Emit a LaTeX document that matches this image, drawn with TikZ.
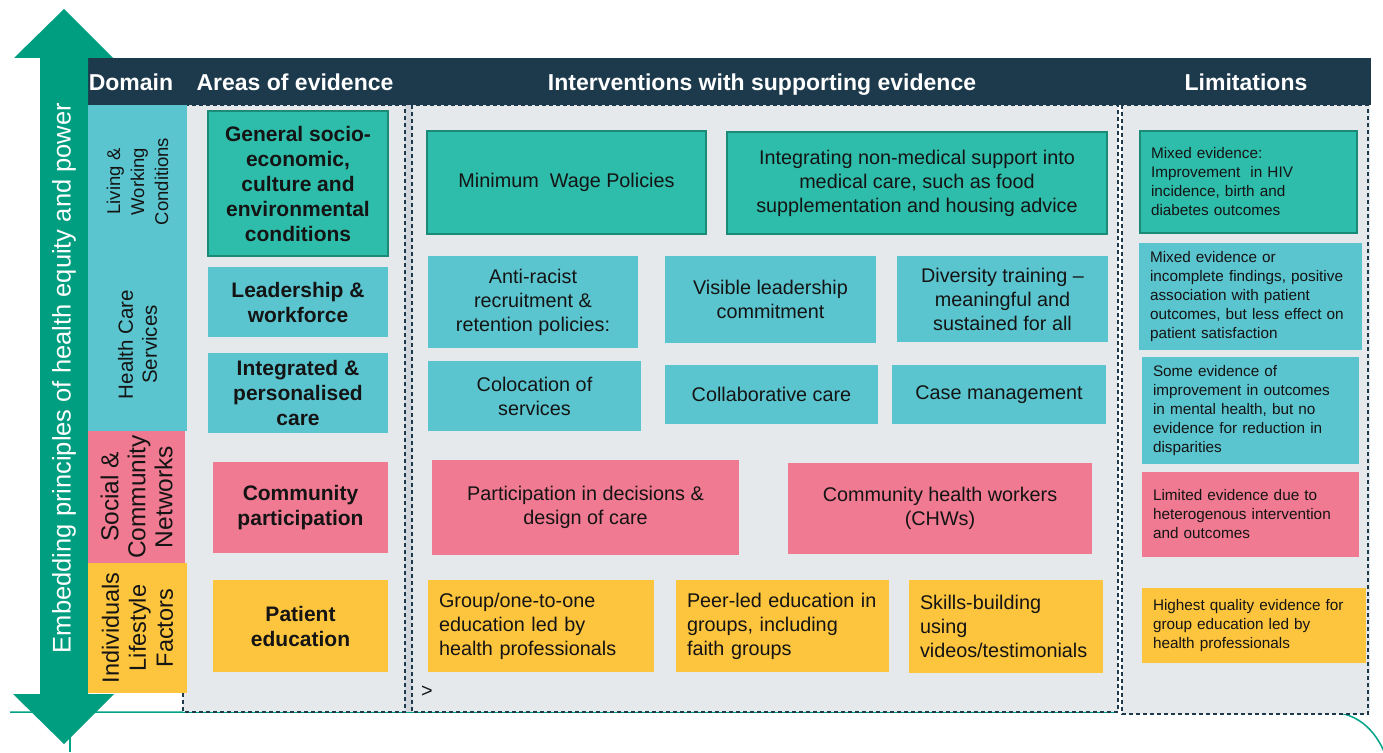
\documentclass[tikz,border=0pt]{standalone}
\usepackage{fontspec}
\setmainfont{Liberation Sans}
\usepackage{tikz}
\usetikzlibrary{positioning}

\definecolor{arrowgreen}{RGB}{0,158,128}
\definecolor{navy}{RGB}{29,58,77}
\definecolor{bodygray}{RGB}{229,233,236}
\definecolor{stripgray}{RGB}{208,214,219}
\definecolor{tealbox}{RGB}{46,189,170}
\definecolor{tealedge}{RGB}{27,138,118}
\definecolor{aqua}{RGB}{91,197,207}
\definecolor{rose}{RGB}{240,122,145}
\definecolor{amber}{RGB}{253,196,62}
\definecolor{linegreen}{RGB}{0,163,135}
\definecolor{ink}{RGB}{20,20,20}

\tikzset{
  box/.style={inner sep=0pt, outer sep=0pt, align=center, text=ink},
  tealcell/.style={box, fill=tealbox, draw=tealedge, line width=1.2pt},
  aquacell/.style={box, fill=aqua},
  rosecell/.style={box, fill=rose},
  ambercell/.style={box, fill=amber},
  % font sizes per column
  areafont/.style={font=\fontsize{21}{25}\selectfont\bfseries},
  intfont/.style={font=\fontsize{19.8}{24}\selectfont},
  limfont/.style={font=\fontsize{15.3}{19}\selectfont},
  domfont/.style={rotate=90, font=\fontsize{19.5}{24}\selectfont},
  headfont/.style={anchor=base, text=white, font=\fontsize{23}{27}\selectfont\bfseries},
  leftcell/.style={align=left, inner xsep=11pt},
  colframe/.style={draw=navy, dash pattern=on 4pt off 3pt, line width=1.1pt},
}

\begin{document}
\begin{tikzpicture}[x=1pt, y=-1pt]
    \useasboundingbox (0,0) rectangle (1383,752);

    % base line with rounded corner
    \draw[linegreen, line width=1.5pt] (10,712) -- (1328,712)
        .. controls (1362,712) and (1378,736) .. (1386,756);
    \draw[linegreen, line width=1.5pt] (70,712) -- (70,752);

    % body and column frames
    \fill[bodygray] (183,105) rectangle (1370,712);
    \fill[stripgray] (405,105) rectangle (412,712);
    \fill[white] (1118,105) rectangle (1122,714);
    \fill[bodygray] (1122,105) rectangle (1368,714);
    \draw[colframe] (183,105) rectangle (405,712);
    \draw[colframe] (412,105) rectangle (1118,712);
    \draw[colframe] (1122,105) rectangle (1368,714);

    % header bar
    \fill[navy] (88,58) rectangle (1371,105);
    \node[headfont] (hDomain) at (131,90) {Domain};
    \node[headfont] (hAreas) at (295,90) {Areas of evidence};
    \node[headfont] (hInterv) at (762,90) {Interventions with supporting evidence};
    \node[headfont] (hLimits) at (1246,90) {Limitations};

    % double arrow
    \fill[arrowgreen] (40,58) -- (14,58) -- (64,9) -- (113,58) -- (88,58)
        -- (88,694) -- (114,694) -- (64,744) -- (13,694) -- (40,694) -- cycle;
    \node[rotate=90, text=white, font=\fontsize{25.5}{29}\selectfont] (embed) at (64,378)
        {Embedding principles of health equity and power};

    % domain column
    \node[aquacell, domfont, font=\fontsize{18.5}{24}\selectfont, minimum width=153pt, minimum height=99pt] (dLiving) at (137.5,181.5)
        {Living \&\\Working\\Conditions};
    \node[aquacell, domfont, font=\fontsize{20.5}{24}\selectfont, minimum width=173pt, minimum height=99pt] (dHealth) at (137.5,344.5)
        {Health Care\\Services};
    \node[rosecell, domfont, font=\fontsize{24.5}{27}\selectfont, minimum width=132pt, minimum height=97pt] (dSocial) at (136.5,497)
        {Social \&\\Community\\Networks};
    \node[ambercell, domfont, font=\fontsize{23.5}{27}\selectfont, minimum width=130pt, minimum height=99pt] (dIndiv) at (137.5,628)
        {Individuals\\Lifestyle\\Factors};

    % areas of evidence
    \node[tealcell, areafont, minimum width=180pt, minimum height=145pt] (aGeneral) at (298,183.5)
        {General socio-\\economic,\\culture and\\environmental\\conditions};
    \node[aquacell, areafont, minimum width=180pt, minimum height=70pt] (aLeader) at (298,302)
        {Leadership \&\\workforce};
    \node[aquacell, areafont, minimum width=180pt, minimum height=80pt] (aIntegr) at (298,393)
        {Integrated \&\\personalised\\care};
    \node[rosecell, areafont, minimum width=175pt, minimum height=91pt] (aCommun) at (300.5,507.5)
        {Community\\participation};
    \node[ambercell, areafont, minimum width=175pt, minimum height=92pt] (aPatient) at (300.5,626)
        {Patient\\education};

    % interventions
    \node[tealcell, intfont, minimum width=279pt, minimum height=103pt] (iWage) at (566.5,182.5)
        {Minimum\ \ Wage Policies};
    \node[tealcell, intfont, minimum width=380pt, minimum height=102pt] (iIntegr) at (917,183)
        {Integrating non-medical support into\\medical care, such as food\\supplementation and housing advice};
    \node[aquacell, intfont, minimum width=210pt, minimum height=92pt] (iRacist) at (533,302)
        {Anti-racist\\recruitment \&\\retention policies:};
    \node[aquacell, intfont, minimum width=211pt, minimum height=87pt] (iVisible) at (770.5,299.5)
        {Visible leadership\\commitment};
    \node[aquacell, intfont, minimum width=211pt, minimum height=86pt] (iDivers) at (1002.5,299)
        {Diversity training --\\meaningful and\\sustained for all};
    \node[aquacell, intfont, minimum width=213pt, minimum height=70pt] (iColoc) at (534.5,396)
        {Colocation of\\services};
    \node[aquacell, intfont, minimum width=213pt, minimum height=59pt] (iCollab) at (771.5,394.5)
        {Collaborative care};
    \node[aquacell, intfont, minimum width=214pt, minimum height=59pt] (iCase) at (999,394.5)
        {Case management};
    \node[rosecell, intfont, minimum width=307pt, minimum height=95pt] (iPartic) at (585.5,507.5)
        {Participation in decisions \&\\design of care};
    \node[rosecell, intfont, minimum width=304pt, minimum height=91pt] (iCHW) at (940,508.5)
        {Community health workers\\(CHWs)};
    \node[ambercell, intfont, leftcell, text width=204pt, minimum height=92pt] (iGroup) at (541,626)
        {Group/one-to-one\\education led by\\health professionals};
    \node[ambercell, intfont, leftcell, text width=191pt, minimum height=92pt] (iPeer) at (782.5,626)
        {Peer-led education in\\groups, including\\faith groups};
    \node[ambercell, intfont, leftcell, text width=172pt, minimum height=93pt] (iSkills) at (1006,626.5)
        {Skills-building\\using\\videos/testimonials};
    \node[intfont, text=ink] (more) at (427,692) {>};

    % limitations
    \node[tealcell, limfont, leftcell, text width=195pt, minimum height=102pt] (lMixed) at (1248.5,182)
        {Mixed evidence:\\Improvement\ \ in HIV\\incidence, birth and\\diabetes outcomes};
    \node[aquacell, limfont, leftcell, text width=201pt, minimum height=107pt] (lIncompl) at (1250.5,296.5)
        {Mixed evidence or\\incomplete findings, positive\\association with patient\\outcomes, but less effect on\\patient satisfaction};
    \node[aquacell, limfont, leftcell, text width=195pt, minimum height=107pt] (lSome) at (1250.5,410.5)
        {Some evidence of\\improvement in outcomes\\in mental health, but no\\evidence for reduction in\\disparities};
    \node[rosecell, limfont, leftcell, text width=195pt, minimum height=85pt] (lLimited) at (1250.5,514.5)
        {Limited evidence due to\\heterogenous intervention\\and outcomes};
    \node[ambercell, limfont, leftcell, text width=202pt, minimum height=75pt] (lHighest) at (1254,625.5)
        {Highest quality evidence for\\group education led by\\health professionals};
\end{tikzpicture}
\end{document}
